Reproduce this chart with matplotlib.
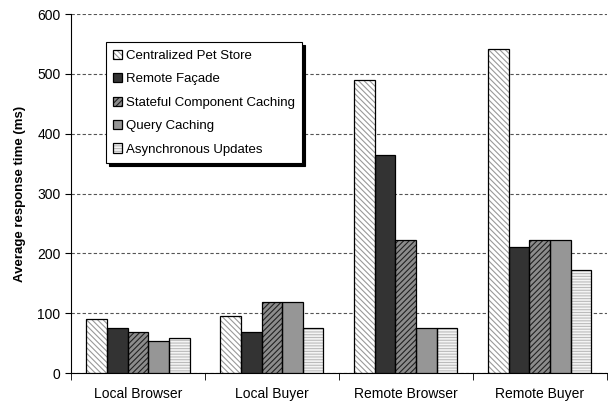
import numpy as np
import matplotlib.pyplot as plt
from matplotlib.ticker import FixedLocator

plt.rcParams['font.family'] = ['Liberation Sans', 'DejaVu Sans']
plt.rcParams['hatch.linewidth'] = 0.8

groups = ['Local Browser', 'Local Buyer', 'Remote Browser', 'Remote Buyer']
series = ['Centralized Pet Store', 'Remote Façade', 'Stateful Component Caching',
          'Query Caching', 'Asynchronous Updates']
centralized = [91, 95, 489, 541]
facade = [75, 68, 365, 210]
stateful = [68, 118, 223, 223]
query = [54, 119, 76, 222]
async_upd = [58, 75, 76, 173]
values = [centralized, facade, stateful, query, async_upd]

# fill colour, hatch pattern, hatch colour
styles = [
    ('white', '\\\\\\\\\\\\', '#999999'),
    ('#333333', None, '#333333'),
    ('#8c8c8c', '//////', '#222222'),
    ('#969696', None, '#969696'),
    ('#f4f4f4', '------', '#bbbbbb'),
]

fig = plt.figure(figsize=(6.08, 4.07), dpi=100)
ax = fig.add_axes([0.1168, 0.0835, 0.881, 0.882])

x = np.arange(len(groups))
w = 0.154
handles = []
for i, (vals, (fc, hatch, hc)) in enumerate(zip(values, styles)):
    pos = x + (i - 2) * w
    b1 = ax.bar(pos, vals, w, color=fc, hatch=hatch, edgecolor=hc, linewidth=0, zorder=3)
    b2 = ax.bar(pos, vals, w, fill=False, edgecolor='black', linewidth=0.9, zorder=4)
    handles.append((b1[0], b2[0]))

ax.set_xlim(-0.5, 3.5)
ax.set_ylim(0, 600)
ax.set_yticks(range(0, 601, 100))
ax.yaxis.grid(True, linestyle=(0, (3, 2)), color='#555555', linewidth=0.8, zorder=0)
ax.set_axisbelow(True)

ax.set_xticks(x)
ax.set_xticklabels(groups, fontsize=10)
ax.tick_params(axis='x', which='major', length=0, pad=10)
ax.xaxis.set_minor_locator(FixedLocator(np.arange(-0.5, 4, 1)))
ax.tick_params(axis='x', which='minor', length=5, direction='out')
ax.tick_params(axis='y', length=4, direction='out', labelsize=10)

for s in ['top', 'right']:
    ax.spines[s].set_visible(False)

ax.set_ylabel('Average response time (ms)', fontsize=9.5, fontweight='bold', labelpad=8)

leg = ax.legend(handles, series, loc='upper left', bbox_to_anchor=(0.065, 0.921),
                fontsize=9.5, frameon=True, fancybox=False, shadow={'color': 'black', 'alpha': 1},
                edgecolor='black', framealpha=1, handlelength=0.7, handleheight=0.7,
                handletextpad=0.25, labelspacing=0.85, borderpad=0.55, borderaxespad=0)
leg.get_frame().set_linewidth(0.8)
leg.set_zorder(10)

fig.savefig('out.png', dpi=100)
